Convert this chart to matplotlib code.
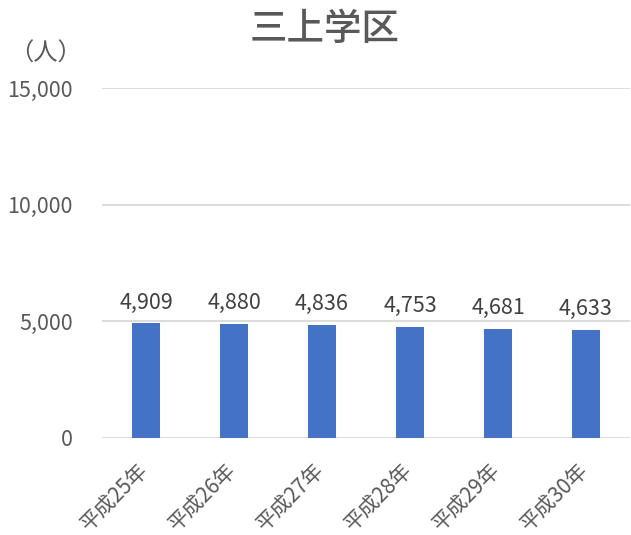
import matplotlib
matplotlib.use("Agg")
import matplotlib.pyplot as plt
from matplotlib.transforms import ScaledTranslation

plt.rcParams['font.family'] = ['Noto Sans CJK JP', 'DejaVu Sans']

categories = ["平成25年", "平成26年", "平成27年", "平成28年", "平成29年", "平成30年"]
values = [4909, 4880, 4836, 4753, 4681, 4633]
yticks = [0, 5000, 10000, 15000]
title = "三上学区"
unit = "（人）"

fig = plt.figure(figsize=(6.31, 5.35), dpi=100)
ax = fig.add_axes([102/631, 1-438/535, 528/631, 350/535])

x = list(range(len(categories)))
ax.bar(x, values, width=0.32, color="#4472C4", zorder=3)
ax.set_xlim(-0.5, len(categories)-0.5)
ax.set_ylim(0, 15000)
ax.set_yticks(yticks)
ax.set_yticklabels([f"{v:,}" for v in yticks], color="#595959", fontsize=15.5)
ax.yaxis.grid(True, color="#D9D9D9", linewidth=1.3, zorder=0)
for s in ax.spines.values():
    s.set_visible(False)
ax.tick_params(axis='both', length=0)
ax.tick_params(axis='y', pad=21)
ax.set_xticks(x)
ax.set_xticklabels(categories, rotation=45, ha='right', va='top',
                   rotation_mode='anchor', color="#595959", fontsize=15)
ax.tick_params(axis='x', pad=15)
offset = ScaledTranslation(-9/100, 0, fig.dpi_scale_trans)
for lbl in ax.get_xticklabels():
    lbl.set_transform(lbl.get_transform() + offset)

for xi, v in zip(x, values):
    ax.annotate(f"{v:,}", (xi, v), xytext=(0, 7), textcoords='offset points',
                ha='center', va='bottom', color="#404040", fontsize=15.5)

fig.text(325/631, 1-29/535, title, ha='center', va='center', fontsize=27,
         fontweight='medium', color="#595959")
fig.text(45/631, 1-54/535, unit, ha='center', va='center', fontsize=17.5,
         color="#595959")

fig.savefig("out.png", dpi=100)
